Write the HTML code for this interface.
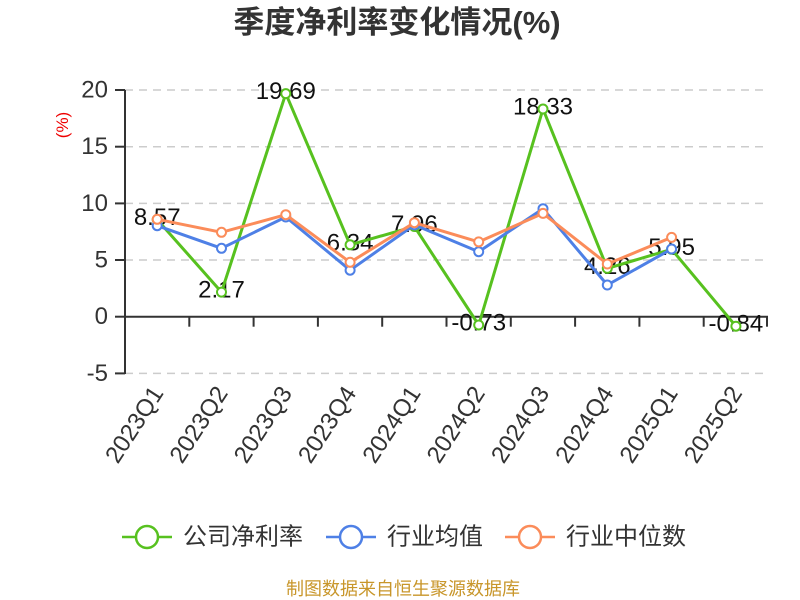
<!DOCTYPE html>
<html><head><meta charset="utf-8"><style>
html,body{margin:0;padding:0;background:#fff;}
svg{display:block;}
text{font-family:"Liberation Sans","Noto Sans CJK SC",sans-serif;}
</style></head><body>
<svg width="800" height="600" viewBox="0 0 800 600" xmlns="http://www.w3.org/2000/svg">
<rect width="800" height="600" fill="#fff"/>
<text x="397" y="33" text-anchor="middle" font-size="31" font-weight="bold" fill="#333">季度净利率变化情况(%)</text>
<text transform="translate(68,125) rotate(-90)" text-anchor="middle" font-size="17" fill="#e00">(%)</text>
<g stroke="#ccc" stroke-width="1.5" stroke-dasharray="8,6">
<line x1="125" y1="90" x2="768" y2="90"/>
<line x1="125" y1="146.7" x2="768" y2="146.7"/>
<line x1="125" y1="203.4" x2="768" y2="203.4"/>
<line x1="125" y1="260" x2="768" y2="260"/>
<line x1="125" y1="373.4" x2="768" y2="373.4"/>
</g>
<g stroke="#333" stroke-width="2">
<line x1="125" y1="90" x2="125" y2="374"/>
<line x1="115" y1="90" x2="125" y2="90"/>
<line x1="115" y1="146.7" x2="125" y2="146.7"/>
<line x1="115" y1="203.4" x2="125" y2="203.4"/>
<line x1="115" y1="260" x2="125" y2="260"/>
<line x1="115" y1="316.7" x2="125" y2="316.7"/>
<line x1="115" y1="373.4" x2="125" y2="373.4"/>
<line x1="125" y1="316.7" x2="768" y2="316.7"/>
<line x1="189.3" y1="316.7" x2="189.3" y2="326.7"/>
<line x1="253.6" y1="316.7" x2="253.6" y2="326.7"/>
<line x1="317.9" y1="316.7" x2="317.9" y2="326.7"/>
<line x1="382.2" y1="316.7" x2="382.2" y2="326.7"/>
<line x1="446.5" y1="316.7" x2="446.5" y2="326.7"/>
<line x1="510.8" y1="316.7" x2="510.8" y2="326.7"/>
<line x1="575.1" y1="316.7" x2="575.1" y2="326.7"/>
<line x1="639.4" y1="316.7" x2="639.4" y2="326.7"/>
<line x1="703.7" y1="316.7" x2="703.7" y2="326.7"/>
<line x1="767" y1="316.7" x2="767" y2="326.7"/>
</g>
<g font-size="24" fill="#333" text-anchor="end" dominant-baseline="central">
<text x="108" y="90">20</text>
<text x="108" y="146.7">15</text>
<text x="108" y="203.4">10</text>
<text x="108" y="260">5</text>
<text x="108" y="316.7">0</text>
<text x="108" y="373.4">-5</text>
</g>
<g font-size="24" fill="#333" text-anchor="end" dominant-baseline="central">
<text transform="translate(158,389) rotate(-57)">2023Q1</text>
<text transform="translate(222.3,389) rotate(-57)">2023Q2</text>
<text transform="translate(286.6,389) rotate(-57)">2023Q3</text>
<text transform="translate(350.9,389) rotate(-57)">2023Q4</text>
<text transform="translate(415.2,389) rotate(-57)">2024Q1</text>
<text transform="translate(479.5,389) rotate(-57)">2024Q2</text>
<text transform="translate(543.8,389) rotate(-57)">2024Q3</text>
<text transform="translate(608.1,389) rotate(-57)">2024Q4</text>
<text transform="translate(672.4,389) rotate(-57)">2025Q1</text>
<text transform="translate(736.7,389) rotate(-57)">2025Q2</text>
</g>
<g font-size="24" fill="#111" text-anchor="middle" dominant-baseline="central">
<text x="157.2" y="217.6">8.57</text>
<text x="221.5" y="290.1">2.17</text>
<text x="285.8" y="91.6">19.69</text>
<text x="350.1" y="242.8">6.34</text>
<text x="414.4" y="224.5">7.96</text>
<text x="478.7" y="323">-0.73</text>
<text x="543" y="107">18.33</text>
<text x="607.3" y="266.4">4.26</text>
<text x="671.6" y="247.3">5.95</text>
<text x="735.9" y="324.2">-0.84</text>
</g>
<g fill="none" stroke-width="3" stroke-linejoin="round">
<polyline stroke="#57c11f" points="157.2,219.6 221.5,292.1 285.8,93.6 350.1,244.8 414.4,226.5 478.7,325 543,109 607.3,268.4 671.6,249.3 735.9,326.2"/>
</g>
<g fill="#fff" stroke="#57c11f" stroke-width="2">
<circle cx="157.2" cy="219.6" r="4.5"/><circle cx="221.5" cy="292.1" r="4.5"/><circle cx="285.8" cy="93.6" r="4.5"/><circle cx="350.1" cy="244.8" r="4.5"/><circle cx="414.4" cy="226.5" r="4.5"/><circle cx="478.7" cy="325" r="4.5"/><circle cx="543" cy="109" r="4.5"/><circle cx="607.3" cy="268.4" r="4.5"/><circle cx="671.6" cy="249.3" r="4.5"/><circle cx="735.9" cy="326.2" r="4.5"/>
</g>
<polyline fill="none" stroke="#4e80e6" stroke-width="3" stroke-linejoin="round" points="157.2,225.7 221.5,248.3 285.8,217 350.1,270.2 414.4,224.9 478.7,251.7 543,208.7 607.3,285 671.6,249"/>
<g fill="#fff" stroke="#4e80e6" stroke-width="2">
<circle cx="157.2" cy="225.7" r="4.5"/><circle cx="221.5" cy="248.3" r="4.5"/><circle cx="285.8" cy="217" r="4.5"/><circle cx="350.1" cy="270.2" r="4.5"/><circle cx="414.4" cy="224.9" r="4.5"/><circle cx="478.7" cy="251.7" r="4.5"/><circle cx="543" cy="208.7" r="4.5"/><circle cx="607.3" cy="285" r="4.5"/><circle cx="671.6" cy="249" r="4.5"/>
</g>
<polyline fill="none" stroke="#fb8c5a" stroke-width="3" stroke-linejoin="round" points="157.2,219.3 221.5,232.3 285.8,214.7 350.1,262.3 414.4,222.7 478.7,241.9 543,213.4 607.3,264 671.6,237.4"/>
<g fill="#fff" stroke="#fb8c5a" stroke-width="2">
<circle cx="157.2" cy="219.3" r="4.5"/><circle cx="221.5" cy="232.3" r="4.5"/><circle cx="285.8" cy="214.7" r="4.5"/><circle cx="350.1" cy="262.3" r="4.5"/><circle cx="414.4" cy="222.7" r="4.5"/><circle cx="478.7" cy="241.9" r="4.5"/><circle cx="543" cy="213.4" r="4.5"/><circle cx="607.3" cy="264" r="4.5"/><circle cx="671.6" cy="237.4" r="4.5"/>
</g>
<g stroke-width="2.5" fill="#fff">
<line x1="122" y1="537" x2="172" y2="537" stroke="#57c11f"/>
<circle cx="147" cy="537" r="11" stroke="#57c11f"/>
<line x1="326" y1="537" x2="376" y2="537" stroke="#4e80e6"/>
<circle cx="351" cy="537" r="11" stroke="#4e80e6"/>
<line x1="505" y1="537" x2="555" y2="537" stroke="#fb8c5a"/>
<circle cx="530" cy="537" r="11" stroke="#fb8c5a"/>
</g>
<g font-size="24" fill="#333" dominant-baseline="central">
<text x="183" y="537">公司净利率</text>
<text x="387" y="537">行业均值</text>
<text x="566" y="537">行业中位数</text>
</g>
<text x="403" y="589" text-anchor="middle" dominant-baseline="central" font-size="18" fill="#c8962a">制图数据来自恒生聚源数据库</text>
</svg>
</body></html>
